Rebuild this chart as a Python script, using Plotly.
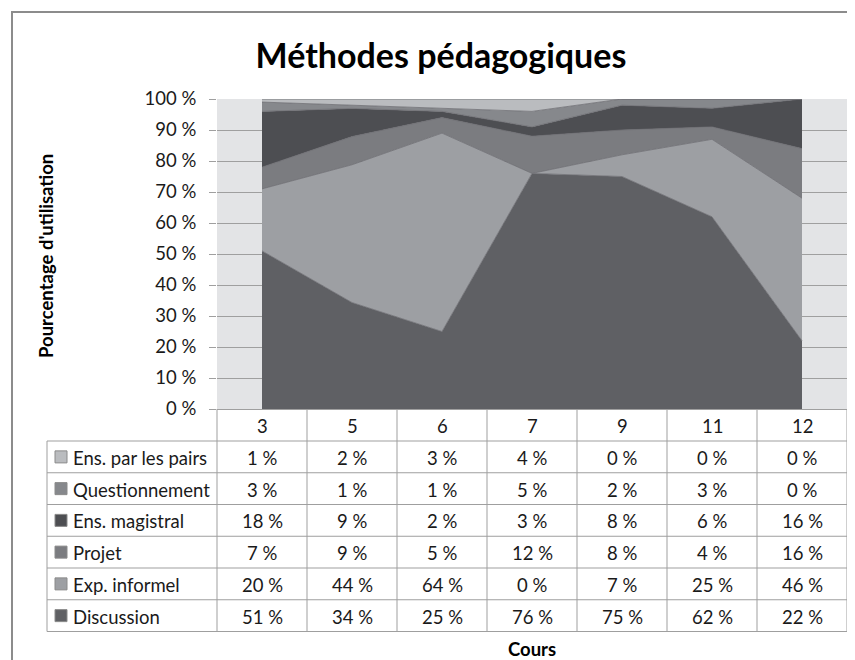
import plotly.graph_objects as go

# ---------------- data ----------------
cours = ["3", "5", "6", "7", "9", "11", "12"]
discussion = [51, 34, 25, 76, 75, 62, 22]
exp_informel = [20, 44, 64, 0, 7, 25, 46]
projet = [7, 9, 5, 12, 8, 4, 16]
ens_magistral = [18, 9, 2, 3, 8, 6, 16]
questionnement = [3, 1, 1, 5, 2, 3, 0]
ens_pairs = [1, 2, 3, 4, 0, 0, 0]

# bottom -> top stacking order
series_names = ["Discussion", "Exp. informel", "Projet", "Ens. magistral",
                "Questionnement", "Ens. par les pairs"]
series_values = [discussion, exp_informel, projet, ens_magistral,
                 questionnement, ens_pairs]
series_colors = ["#5f6064", "#9d9fa3", "#7b7c80", "#4d4e52", "#86888c", "#babcbf"]

y_ticks = [0, 10, 20, 30, 40, 50, 60, 70, 80, 90, 100]
y_tick_labels = [f"{v} %" for v in y_ticks]

title_text = "Méthodes pédagogiques"
y_title = "Pourcentage d'utilisation"
x_title = "Cours"

# ---------------- layout geometry (figure pixels; page adds an 8px body margin) ----------------
OFF = 8
W, H = 855 - OFF, 660 - OFF
PL, PR, PT, PB = 217 - OFF, 847 - OFF, 99 - OFF, 409 - OFF   # plot area
FONT = "Lato, 'Open Sans', sans-serif"
GRID = "#9f9f9f"
TXT = "#1a1a1a"
FS = 18.5

def px2x(px):
    return (px - PL) / (PR - PL)

def py2y(py):
    return (PB - py) / (PB - PT)

fig = go.Figure()
for name, vals, col in zip(series_names, series_values, series_colors):
    fig.add_trace(go.Scatter(
        x=cours, y=vals, name=name, mode="lines",
        stackgroup="one", groupnorm="percent",
        line=dict(width=0.8, color="#6e6f73"),
        fillcolor=col, hoverinfo="skip", showlegend=False,
    ))

shapes = []
annotations = []

# table geometry
n_cols = len(cours)
col_w = (PR - PL) / n_cols
header_top, header_bot = PB, 441 - OFF
row_h = (631.5 - 441) / len(series_names)
table_left = 47 - OFF
table_bottom = header_bot + row_h * len(series_names)

line_style = dict(color=GRID, width=1)

# vertical lines (category columns)
for i in range(n_cols + 1):
    x = px2x(PL + i * col_w)
    shapes.append(dict(type="line", xref="paper", yref="paper",
                       x0=x, x1=x, y0=py2y(header_top), y1=py2y(table_bottom),
                       line=line_style, layer="above"))
# legend column left border
shapes.append(dict(type="line", xref="paper", yref="paper",
                   x0=px2x(table_left), x1=px2x(table_left),
                   y0=py2y(header_bot), y1=py2y(table_bottom), line=line_style))
# horizontal lines
for r in range(len(series_names) + 1):
    y = py2y(header_bot + r * row_h)
    shapes.append(dict(type="line", xref="paper", yref="paper",
                       x0=px2x(table_left), x1=1, y0=y, y1=y, line=line_style))

# header labels
for i, c in enumerate(cours):
    annotations.append(dict(x=(i + 0.5) / n_cols, y=py2y((header_top + header_bot) / 2 + 1),
                            xref="paper", yref="paper", text=c, showarrow=False,
                            font=dict(family=FONT, size=FS, color=TXT),
                            xanchor="center", yanchor="middle"))

# table rows: top row = last series
table_order = list(range(len(series_names)))[::-1]
for r, si in enumerate(table_order):
    yc = header_bot + (r + 0.5) * row_h
    # swatch
    shapes.append(dict(type="rect", xref="paper", yref="paper",
                       x0=px2x(55 - OFF), x1=px2x(67 - OFF),
                       y0=py2y(yc - 6), y1=py2y(yc + 6),
                       fillcolor=series_colors[si], line=dict(color="#8a8a8a", width=1)))
    annotations.append(dict(x=px2x(71 - OFF), y=py2y(yc + 1), xref="paper", yref="paper",
                            text=series_names[si], showarrow=False,
                            font=dict(family=FONT, size=FS, color=TXT),
                            xanchor="left", yanchor="middle"))
    for i, v in enumerate(series_values[si]):
        annotations.append(dict(x=(i + 0.5) / n_cols, y=py2y(yc + 1),
                                xref="paper", yref="paper", text=f"{v} %",
                                showarrow=False,
                                font=dict(family=FONT, size=FS, color=TXT),
                                xanchor="center", yanchor="middle"))

# axis titles
annotations.append(dict(x=px2x(46 - OFF), y=py2y(256 - OFF), xref="paper", yref="paper",
                        text=f"<b>{y_title}</b>", textangle=-90, showarrow=False,
                        font=dict(family=FONT, size=18.5, color="#000"),
                        xanchor="center", yanchor="middle"))
annotations.append(dict(x=px2x(532 - OFF), y=py2y(649 - OFF), xref="paper", yref="paper",
                        text=f"<b>{x_title}</b>", showarrow=False,
                        font=dict(family=FONT, size=18.5, color="#000"),
                        xanchor="center", yanchor="middle"))

# outer chart border
shapes.append(dict(type="rect", xref="paper", yref="paper",
                   x0=px2x(12 - OFF), x1=px2x(900), y0=py2y(12 - OFF), y1=py2y(700),
                   line=dict(color="#8c8c8c", width=2), fillcolor="rgba(0,0,0,0)"))

fig.update_layout(
    width=W, height=H,
    margin=dict(l=PL, r=W - PR, t=PT, b=H - PB, pad=0),
    paper_bgcolor="white", plot_bgcolor="#e3e4e6",
    font=dict(family=FONT, color=TXT),
    title=dict(text=f"<b>{title_text}</b>", x=px2x(441 - OFF), xref="paper", xanchor="center",
               y=1 - (56 - OFF) / H, yref="container", yanchor="middle",
               font=dict(family=FONT, size=34, color="#000")),
    xaxis=dict(type="category", range=[-0.5, n_cols - 0.5], showticklabels=False,
               showgrid=False, zeroline=False, showline=True, linecolor=GRID,
               linewidth=1, ticks=""),
    yaxis=dict(range=[0, 100], tickvals=y_ticks, ticktext=y_tick_labels,
               ticks="outside", ticklen=7, tickcolor=GRID, tickwidth=1,
               showgrid=True, gridcolor=GRID, gridwidth=1, zeroline=False,
               showline=False, ticklabelstandoff=9,
               tickfont=dict(family=FONT, size=FS, color=TXT)),
    shapes=shapes, annotations=annotations, hovermode=False,
)

fig.write_html("out.html")
